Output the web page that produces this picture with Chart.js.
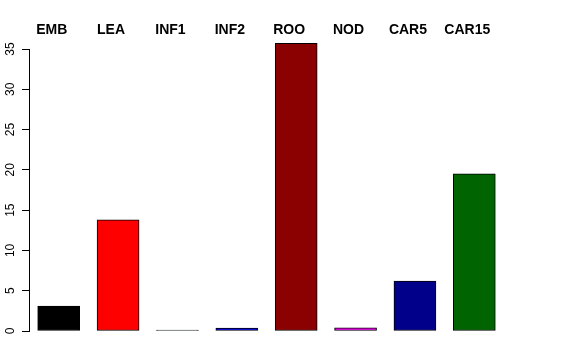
<!DOCTYPE html>
<html>
<head>
<meta charset="utf-8">
<script src="https://cdn.jsdelivr.net/npm/chart.js@4/dist/chart.umd.min.js"></script>
<style>
  body { margin: 0; background: #fff; }
  #wrap { width: 576px; height: 360px; }
</style>
</head>
<body>
<div id="wrap"><canvas id="bars" width="576" height="360"></canvas></div>
<script>
// values
const categories = ['EMB', 'LEA', 'INF1', 'INF2', 'ROO', 'NOD', 'CAR5', 'CAR15'];
const values = [3.1, 13.8, 0.12, 0.35, 35.7, 0.4, 6.2, 19.5];
const barColors = ['#000000', '#ff0000', '#1f2f1f', '#0000ff', '#8b0000', '#ff00ff', '#00008b', '#006400'];
const yTicks = [0, 5, 10, 15, 20, 25, 30, 35];

// draws the rotated y tick labels and the bold category names on top
const labelPlugin = {
  id: 'labels',
  afterDraw(chart) {
    const ctx = chart.ctx;
    const x = chart.scales.x;
    const y = chart.scales.y;
    ctx.save();
    ctx.fillStyle = '#000';
    ctx.font = '12px "Liberation Sans", Arial, sans-serif';
    ctx.textAlign = 'center';
    ctx.textBaseline = 'alphabetic';
    yTicks.forEach(v => {
      ctx.save();
      ctx.translate(14, y.getPixelForValue(v));
      ctx.rotate(-Math.PI / 2);
      ctx.fillText(String(v), 0, 0);
      ctx.restore();
    });
    ctx.font = 'bold 14px "Liberation Sans", Arial, sans-serif';
    categories.forEach((c, i) => {
      ctx.fillText(c, x.getPixelForValue(i) - 7, 34);
    });
    ctx.restore();
  }
};

new Chart(document.getElementById('bars'), {
  type: 'bar',
  data: {
    labels: categories,
    datasets: [{
      data: values,
      backgroundColor: barColors,
      borderColor: '#000',
      borderWidth: 1,
      borderSkipped: false,
      barThickness: 42,
      clip: false
    }]
  },
  options: {
    responsive: false,
    animation: false,
    layout: { padding: { left: 0, right: 72, top: 49, bottom: 29 } },
    plugins: { legend: { display: false }, tooltip: { enabled: false } },
    scales: {
      x: { display: false },
      y: {
        min: 0,
        max: 35,
        afterBuildTicks: scale => { scale.ticks = yTicks.map(v => ({ value: v })); },
        afterFit: scale => { scale.width = 29; },
        ticks: { display: false },
        grid: { drawOnChartArea: false, drawTicks: true, tickLength: 7, color: '#000' },
        border: { display: true, color: '#000', width: 1 }
      }
    }
  },
  plugins: [labelPlugin]
});
</script>
</body>
</html>
